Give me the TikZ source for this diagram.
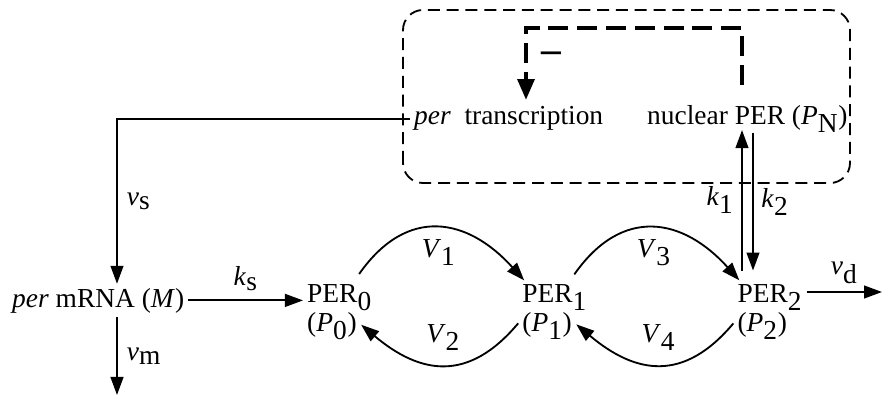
\documentclass[tikz,border=0pt]{standalone}
\usepackage{fontspec}
\setmainfont{Liberation Serif}
\usetikzlibrary{arrows.meta,positioning,calc}

\newcommand{\vsub}[2]{\textit{#1}$_{\textrm{#2}}$}

\begin{document}
\begin{tikzpicture}[
    x=0.025cm, y=0.025cm,
    every node/.style={font=\fontsize{19.5}{15.6}\selectfont, inner sep=0pt, outer sep=3pt},
    perbox/.style={align=left, anchor=north west},
    arrow/.style={-{Triangle[length=0.45cm,width=0.32cm]}, line width=1.3pt},
    inhib/.style={-{Triangle[length=0.52cm,width=0.42cm]}, line width=2.8pt, dash pattern=on 0.5cm off 0.22cm},
    region/.style={line width=1.3pt, dash pattern=on 0.3cm off 0.17cm, rounded corners=0.5cm}
]
    \useasboundingbox (0,0) rectangle (883,396);
    \draw[region] (403,213) rectangle (850,386);

    \node[anchor=base west] (trans) at (410,271) {\textit{per}\ \ transcription};
    \node[anchor=base west] (nucl) at (643,271) {nuclear PER (\vsub{P}{N})};
    \node[anchor=base west] (mrna) at (8,89) {\textit{per} mRNA (\textit{M})};
    \node[perbox] (p0) at (303,116) {PER$_{\textrm{0}}$\\(\vsub{P}{0})};
    \node[perbox, right=3.55cm of p0] (p1) {PER$_{\textrm{1}}$\\(\vsub{P}{1})};
    \node[perbox, right=3.55cm of p1] (p2) {PER$_{\textrm{2}}$\\(\vsub{P}{2})};

    \coordinate (mx) at (117,0);
    \coordinate (mout) at (117,1);
    \coordinate (dout) at (882,104);
    \coordinate (k1x) at (742,0);
    \coordinate (k2x) at (753,0);
    \coordinate (ctop) at (0,368);
    \coordinate (tx) at (526,0);

    % transcription and mRNA
    \draw[arrow] (trans.west) -| node[pos=0.75, right=4pt] {\vsub{v}{s}} (mx |- mrna.north);
    \draw[arrow] (mx |- mrna.south) -- node[right=4pt] {\vsub{v}{m}} (mout);
    \draw[arrow] (mrna.east) -- node[above=4pt] {\vsub{k}{s}} (mrna.east -| p0.west);

    % phosphorylation
    \draw[arrow] ($(p0.north east)+(-17,6)$) to[out=55, in=132, looseness=1.3] node[below=5pt] {\vsub{V}{1}} ($(p1.north west)+(6,0)$);
    \draw[arrow] ($(p1.south west)+(0,20)$) to[out=-130, in=-40, looseness=1.26] node[above=7pt] {\vsub{V}{2}} ($(p0.south east)+(-15,19)$);
    \draw[arrow] ($(p1.north east)+(-17,6)$) to[out=55, in=132, looseness=1.3] node[below=5pt] {\vsub{V}{3}} ($(p2.north west)+(6,0)$);
    \draw[arrow] ($(p2.south west)+(0,20)$) to[out=-130, in=-40, looseness=1.26] node[above=7pt] {\vsub{V}{4}} ($(p1.south east)+(-15,19)$);
    \draw[arrow] (p2.east |- dout) -- node[above=3pt] {\vsub{v}{d}} (dout);

    % nuclear transport
    \draw[arrow] ([yshift=7pt]k1x |- p2.north) -- node[left=3pt] {\vsub{k}{1}} ([yshift=5pt]k1x |- nucl.south);
    \draw[arrow] ([yshift=3pt]k2x |- nucl.south) -- node[right=3pt] {\vsub{k}{2}} ([yshift=7pt]k2x |- p2.north);

    % repression
    \draw[inhib] ([yshift=12pt]k1x |- nucl.north) -- (k1x |- ctop) -| node[pos=0.7, right=8pt] {\bfseries\fontsize{28}{28}\selectfont –} ([yshift=2pt]tx |- trans.north);
\end{tikzpicture}
\end{document}
